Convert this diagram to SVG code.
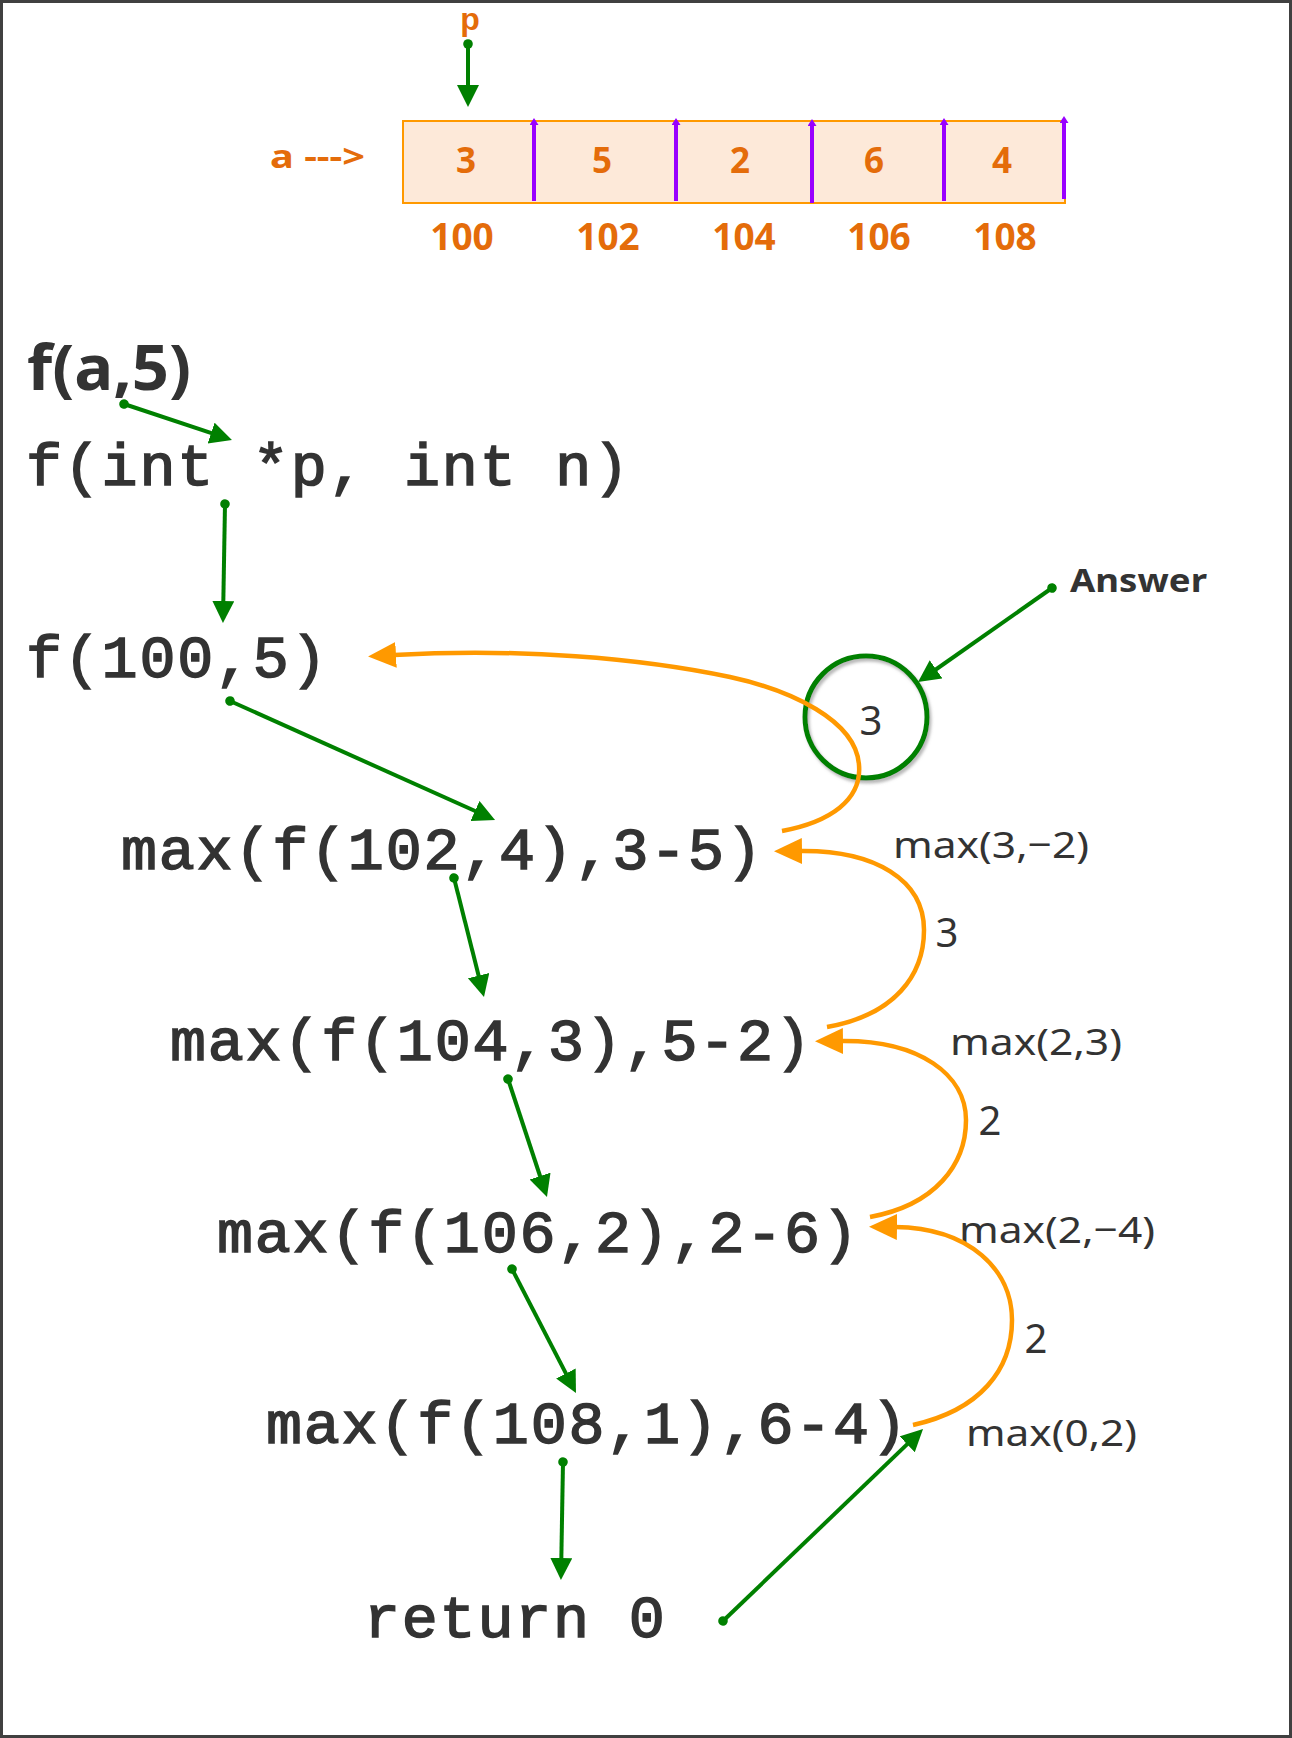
<svg xmlns="http://www.w3.org/2000/svg" width="1292" height="1738" viewBox="0 0 1292 1738">
<style>
.mono{font-family:"Liberation Mono","Courier New",monospace;font-weight:normal;font-size:60px;letter-spacing:1.8px;fill:#333333;stroke:#333333;stroke-width:1.6px}
.org{font-family:"Noto Sans","Liberation Sans",sans-serif;font-weight:bold;fill:#E46C0A}
.lbl{font-family:"Noto Sans","Liberation Sans",sans-serif;fill:#333333}
.g{fill:none;stroke:#008000;stroke-width:4;marker-start:url(#dot);marker-end:url(#garr)}
.o{fill:none;stroke:#FF9900;stroke-width:4.5;marker-end:url(#oarr)}
.div{stroke:#9900FF;stroke-width:4;marker-end:url(#parr)}
</style>
<defs>
<marker id="dot" markerUnits="userSpaceOnUse" markerWidth="12" markerHeight="12" refX="6" refY="6" orient="auto"><circle cx="6" cy="6" r="4.8" fill="#008000"/></marker>
<marker id="garr" markerUnits="userSpaceOnUse" markerWidth="24" markerHeight="24" refX="2" refY="11" orient="auto"><path d="M0,0 L22,11 L0,22 z" fill="#008000"/></marker>
<marker id="oarr" markerUnits="userSpaceOnUse" markerWidth="32" markerHeight="30" refX="2" refY="13" orient="auto"><path d="M0,0 L28,13 L0,26 z" fill="#FF9900"/></marker>
<marker id="parr" markerUnits="userSpaceOnUse" markerWidth="12" markerHeight="12" refX="1" refY="4.5" orient="auto"><path d="M0,0 L7,4.5 L0,9 z" fill="#9900FF"/></marker>
<filter id="sh" x="-20%" y="-20%" width="140%" height="140%"><feDropShadow dx="2" dy="3" stdDeviation="1.5" flood-color="#888888" flood-opacity="0.6"/></filter>
</defs>
<rect x="1.5" y="1.5" width="1289" height="1735" fill="#FFFFFF" stroke="#404040" stroke-width="3"/>

<g id="array">
<rect x="403" y="121" width="662" height="82" fill="#FDE9D9" stroke="#FF9900" stroke-width="2"/>
<line class="div" x1="534" y1="201" x2="534" y2="124"/>
<line class="div" x1="676" y1="201" x2="676" y2="124"/>
<line class="div" x1="812" y1="203" x2="812" y2="125"/>
<line class="div" x1="944" y1="201" x2="944" y2="124"/>
<line class="div" x1="1064" y1="199" x2="1064" y2="122"/>
<g class="org" font-size="35" text-anchor="middle">
<text x="466" y="173">3</text>
<text x="602" y="173">5</text>
<text x="740" y="173">2</text>
<text x="874" y="173">6</text>
<text x="1002" y="173">4</text>
</g>
<g class="org" font-size="37" text-anchor="middle">
<text x="462" y="250">100</text>
<text x="608" y="250">102</text>
<text x="744" y="250">104</text>
<text x="879" y="250">106</text>
<text x="1005" y="250">108</text>
</g>
</g>
<g id="label-p"><text x="470" y="29.5" font-family="'Liberation Sans','Noto Sans',sans-serif" font-weight="bold" font-size="32" fill="#E46C0A" text-anchor="middle">p</text></g>
<g id="label-a"><text class="org" x="270" y="168" font-size="32" textLength="95" lengthAdjust="spacingAndGlyphs">a ---&gt;</text></g>

<g id="call"><text x="27" y="390" font-family="'Noto Sans','Liberation Sans',sans-serif" font-weight="bold" font-size="62" fill="#333333" textLength="164" lengthAdjust="spacingAndGlyphs">f(a,5)</text></g>
<g id="sig"><text class="mono" x="26" y="485">f(int *p, int n)</text></g>
<g id="f100"><text class="mono" x="26" y="677">f(100,5)</text></g>
<g id="max102"><text class="mono" x="121" y="869">max(f(102,4),3-5)</text></g>
<g id="max104"><text class="mono" x="170" y="1060">max(f(104,3),5-2)</text></g>
<g id="max106"><text class="mono" x="217" y="1252">max(f(106,2),2-6)</text></g>
<g id="max108"><text class="mono" x="266" y="1443">max(f(108,1),6-4)</text></g>
<g id="ret"><text class="mono" x="364" y="1637">return 0</text></g>

<g id="answer-circle">
<circle cx="866" cy="717" r="61" fill="none" stroke="#008000" stroke-width="5" filter="url(#sh)"/>
<text class="lbl" x="871" y="735" font-size="40" text-anchor="middle">3</text>
</g>
<g id="answer-label"><text x="1070" y="592" font-family="'Noto Sans','Liberation Sans',sans-serif" font-weight="bold" font-size="33" fill="#333333" textLength="137" lengthAdjust="spacingAndGlyphs">Answer</text></g>

<g id="return-labels" class="lbl">
<text x="893" y="858" font-size="37" textLength="196" lengthAdjust="spacingAndGlyphs">max(3,−2)</text>
<text x="947" y="947" font-size="40" text-anchor="middle">3</text>
<text x="950" y="1055" font-size="37" textLength="172" lengthAdjust="spacingAndGlyphs">max(2,3)</text>
<text x="990" y="1135" font-size="40" text-anchor="middle">2</text>
<text x="959" y="1243" font-size="37" textLength="196" lengthAdjust="spacingAndGlyphs">max(2,−4)</text>
<text x="1036" y="1353" font-size="40" text-anchor="middle">2</text>
<text x="966" y="1446" font-size="37" textLength="171" lengthAdjust="spacingAndGlyphs">max(0,2)</text>
</g>

<g id="connectors">
<path class="g" d="M468,44 L468,87"/>
<path class="g" d="M124,404 L213,433.7"/>
<path class="g" d="M225,504 L223.3,603"/>
<path class="g" d="M230,701 L476.8,811.8"/>
<path class="g" d="M454,878 L479.1,977.6"/>
<path class="g" d="M508,1079 L540.7,1178"/>
<path class="g" d="M512,1269 L566.8,1375.2"/>
<path class="g" d="M563,1462 L561.3,1560"/>
<path class="g" d="M723,1621 L908.6,1442.9"/>
<path class="g" d="M1052,588 L934.4,670.5"/>
<path class="o" d="M782,831 C830,822 862,800 859,765 C856,720 790,690 730,677 C640,658 520,648 394,655"/>
<path class="o" d="M827,1027 C895,1015 924,975 924,930 C924,880 875,850 800,851"/>
<path class="o" d="M870,1217 C935,1205 966,1165 966,1120 C966,1075 920,1040 841,1041"/>
<path class="o" d="M913,1425 C980,1410 1012,1370 1012,1320 C1012,1270 970,1228 895,1227"/>
</g>
</svg>
